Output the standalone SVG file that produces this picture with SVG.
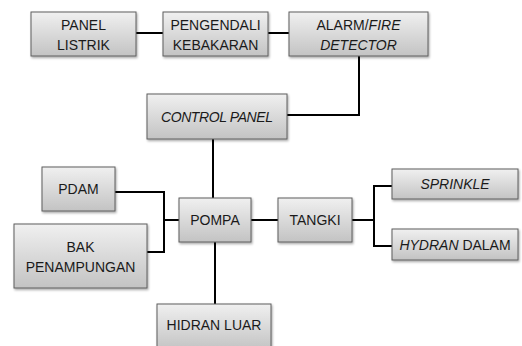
<svg xmlns="http://www.w3.org/2000/svg" width="522" height="346" viewBox="0 0 522 346">
<defs>
<linearGradient id="g" x1="0" y1="0" x2="0" y2="1">
<stop offset="0" stop-color="#f0f0f0"/>
<stop offset="1" stop-color="#c3c3c3"/>
</linearGradient>
<filter id="sh" x="-10%" y="-10%" width="130%" height="140%">
<feDropShadow dx="1" dy="1.5" stdDeviation="1" flood-color="#000" flood-opacity="0.35"/>
</filter>
</defs>
<style>
.box{fill:url(#g);stroke:#5f5f5f;stroke-width:1;filter:url(#sh)}
text{font-family:"Liberation Sans",Arial,sans-serif;font-size:14px;fill:#1a1a1a;text-anchor:middle}
.i{font-style:italic}
.c{fill:none;stroke:#000;stroke-width:2}
</style>
<rect width="522" height="346" fill="#fff"/>
<g id="connectors">
<path class="c" d="M136 33H163"/>
<path class="c" d="M268 33H289"/>
<path class="c" d="M359 56V115H287"/>
<path class="c" d="M213 139V198"/>
<path class="c" d="M115 192H164V252H147"/>
<path class="c" d="M164 220H179"/>
<path class="c" d="M251 220H278"/>
<path class="c" d="M215 242V304"/>
<path class="c" d="M352 220H374"/>
<path class="c" d="M392 186H374V246H392"/>
</g>
<g id="panel-listrik">
<rect class="box" x="31" y="12" width="105" height="44"/>
<text x="83.5" y="30">PANEL</text>
<text x="83.5" y="50">LISTRIK</text>
</g>
<g id="pengendali-kebakaran">
<rect class="box" x="163" y="12" width="105" height="44"/>
<text x="215.5" y="30">PENGENDALI</text>
<text x="215.5" y="50">KEBAKARAN</text>
</g>
<g id="alarm-fire-detector">
<rect class="box" x="289" y="12" width="139" height="44"/>
<text x="358.5" y="30">ALARM/<tspan class="i">FIRE</tspan></text>
<text x="358.5" y="50" class="i">DETECTOR</text>
</g>
<g id="control-panel">
<rect class="box" x="147" y="94" width="140" height="45"/>
<text x="217" y="122" class="i" textLength="112">CONTROL PANEL</text>
</g>
<g id="pdam">
<rect class="box" x="42" y="167" width="73" height="44"/>
<text x="78.5" y="194">PDAM</text>
</g>
<g id="bak-penampungan">
<rect class="box" x="14" y="224" width="133" height="64"/>
<text x="80.5" y="252">BAK</text>
<text x="80.5" y="272">PENAMPUNGAN</text>
</g>
<g id="pompa">
<rect class="box" x="179" y="198" width="72" height="44"/>
<text x="215" y="225">POMPA</text>
</g>
<g id="tangki">
<rect class="box" x="278" y="198" width="74" height="44"/>
<text x="315" y="225">TANGKI</text>
</g>
<g id="sprinkle">
<rect class="box" x="392" y="169" width="126" height="30"/>
<text x="455" y="189" class="i">SPRINKLE</text>
</g>
<g id="hydran-dalam">
<rect class="box" x="392" y="229" width="126" height="31"/>
<text x="455" y="250"><tspan class="i">HYDRAN</tspan> DALAM</text>
</g>
<g id="hidran-luar">
<rect class="box" x="157" y="304" width="114" height="46"/>
<text x="214" y="330">HIDRAN LUAR</text>
</g>
</svg>
